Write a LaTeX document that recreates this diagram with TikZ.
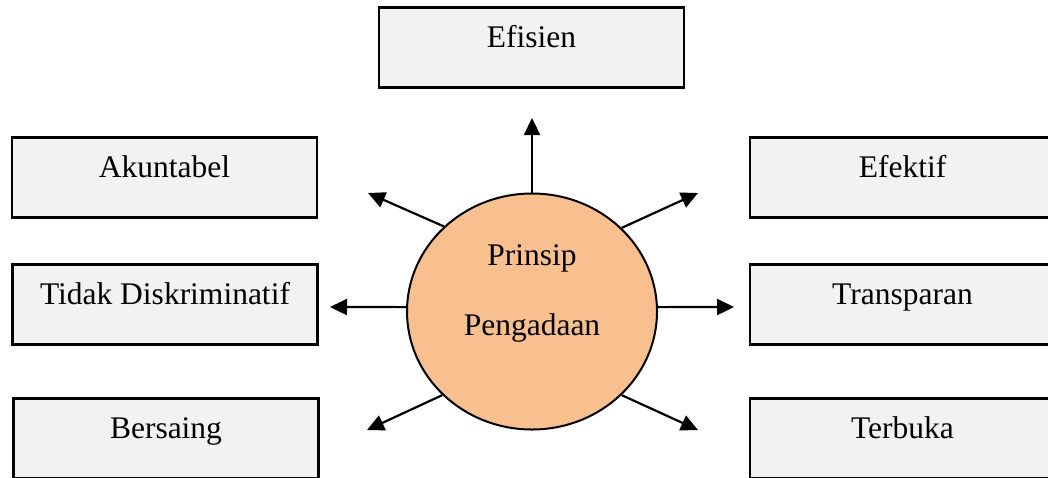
\documentclass[tikz,border=0pt]{standalone}
\usepackage{fontspec}
\setmainfont{Liberation Serif}
\usetikzlibrary{arrows.meta,shapes.geometric,calc}
\definecolor{boxgray}{HTML}{F2F2F2}
\definecolor{peach}{HTML}{F8BF8F}
\begin{document}
\begin{tikzpicture}[x=1pt,y=-1pt,
  every node/.style={font=\fontsize{31.5}{37}\selectfont},
  box/.style={draw=black, fill=boxgray, line width=2.1pt, minimum width=305pt, minimum height=80pt, inner sep=0pt, text height=20pt, text depth=20pt},
  hub/.style={ellipse, draw=black, fill=peach, line width=2pt, minimum width=250pt, minimum height=236pt, inner sep=0pt},
  conn/.style={line width=2.2pt, -{Triangle[length=17pt,width=16pt]}},
  lbl/.style={anchor=base, inner sep=0pt}]
\useasboundingbox (0,0) rectangle (1048,477);
% boxes
\node[box] (efisien) at (531.5,47.5) {Efisien};
\node[box] (akuntabel) at (164.5,177.5) {Akuntabel};
\node[box] (tidak) at (165,304.5) {Tidak Diskriminatif};
\node[box] (bersaing) at (166,438.5) {Bersaing};
\node[box] (efektif) at (902.5,177.5) {Efektif};
\node[box] (transparan) at (902.5,304.5) {Transparan};
\node[box] (terbuka) at (902.5,438.5) {Terbuka};
% hub
\node[hub] (c) at (532,311.5) {};
\node[lbl] (t1) at ($(c.center)+(0,-46.5)$) {Prinsip};
\node[lbl] (t2) at ($(c.center)+(0,23.5)$) {Pengadaan};
% arrow tips
\coordinate (tU) at (532,118);
\coordinate (tUL) at (368,193);
\coordinate (tUR) at (698,193);
\coordinate (tL) at (330,307);
\coordinate (tR) at (734,307);
\coordinate (tDL) at (367,430);
\coordinate (tDR) at (698,430);
% connectors
\draw[conn] (c.90) -- (tU);
\draw[conn] (c.136.5) -- (tUL);
\draw[conn] (c.43) -- (tUR);
\draw[conn] (c.178) -- (tL);
\draw[conn] (c.2) -- (tR);
\draw[conn] (c.223) -- (tDL);
\draw[conn] (c.317.5) -- (tDR);
\end{tikzpicture}
\end{document}
